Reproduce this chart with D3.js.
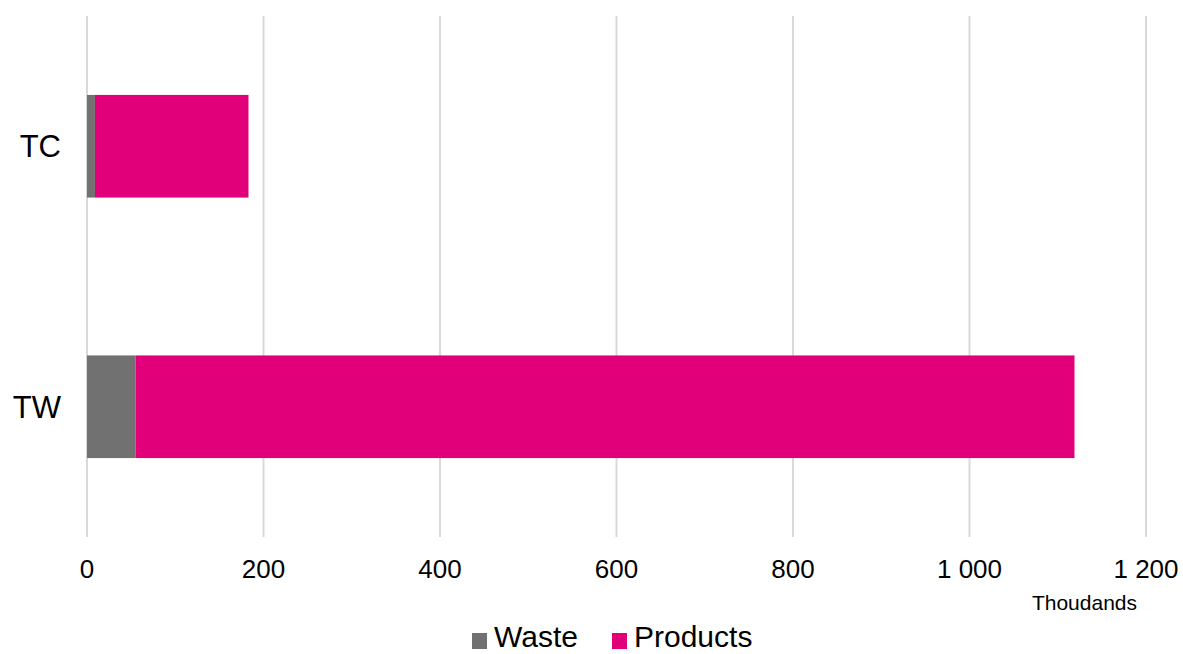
<!DOCTYPE html>
<html lang="en">
<head>
    <meta charset="UTF-8">
    <title>Waste and Products</title>
    <script src="https://d3js.org/d3.v7.min.js"></script>
    <style>
        body {
            margin: 0;
            background: #ffffff;
        }
        svg {
            display: block;
            font-family: "Liberation Sans", Arial, sans-serif;
        }
        .grid line {
            stroke: #d9d9d9;
            stroke-width: 2px;
        }
        .tick-label {
            font-size: 26px;
            fill: #000;
            text-anchor: middle;
        }
        .cat-label {
            font-size: 31px;
            fill: #000;
            text-anchor: end;
        }
        .unit-label {
            font-size: 21px;
            fill: #000;
            text-anchor: end;
        }
        .legend text {
            font-size: 30px;
            fill: #000;
        }
    </style>
</head>
<body>
<svg width="1183" height="654"></svg>

<script>
    // data (thousands)
    const categories = ["TC", "TW"];
    const seriesNames = ["Waste", "Products"];
    const waste = [9, 55];
    const products = [174, 1064];
    const xTicks = [0, 200, 400, 600, 800, 1000, 1200];
    const colors = ["#717171", "#e2007a"];

    const svg = d3.select("svg");

    const x = d3.scaleLinear()
        .domain([0, 1200])
        .range([87, 1146]);

    const y = d3.scaleBand()
        .domain(categories)
        .range([16, 537])
        .paddingInner(0.606)
        .paddingOuter(0.303);

    const fmt = d3.formatLocale({
        decimal: ",",
        thousands: " ",
        grouping: [3],
        currency: ["", ""]
    }).format(",d");

    // vertical gridlines
    svg.append("g")
        .attr("class", "grid")
        .selectAll("line")
        .data(xTicks)
        .enter().append("line")
        .attr("x1", d => x(d))
        .attr("x2", d => x(d))
        .attr("y1", 16)
        .attr("y2", 537);

    // stacked bars
    const table = categories.map((c, i) => ({cat: c, Waste: waste[i], Products: products[i]}));
    const stacked = d3.stack().keys(seriesNames)(table);

    svg.append("g")
        .selectAll("g")
        .data(stacked)
        .enter().append("g")
        .attr("fill", (d, i) => colors[i])
        .selectAll("rect")
        .data(d => d)
        .enter().append("rect")
        .attr("x", d => x(d[0]))
        .attr("y", d => y(d.data.cat))
        .attr("width", d => x(d[1]) - x(d[0]))
        .attr("height", y.bandwidth());

    // x tick labels
    svg.append("g")
        .selectAll("text")
        .data(xTicks)
        .enter().append("text")
        .attr("class", "tick-label")
        .attr("x", d => x(d))
        .attr("y", 578)
        .text(d => fmt(d));

    svg.append("text")
        .attr("class", "unit-label")
        .attr("x", 1137)
        .attr("y", 610)
        .text("Thoudands");

    // category labels
    svg.append("g")
        .selectAll("text")
        .data(categories)
        .enter().append("text")
        .attr("class", "cat-label")
        .attr("x", 61)
        .attr("y", d => y(d) + y.bandwidth() / 2 + 11)
        .text(d => d);

    // legend
    const legendX = [472, 612];
    const legend = svg.append("g").attr("class", "legend");

    legend.selectAll("rect")
        .data(seriesNames)
        .enter().append("rect")
        .attr("x", (d, i) => legendX[i])
        .attr("y", 633)
        .attr("width", 15)
        .attr("height", 16)
        .attr("fill", (d, i) => colors[i]);

    legend.selectAll("text")
        .data(seriesNames)
        .enter().append("text")
        .attr("x", (d, i) => legendX[i] + 22)
        .attr("y", 647)
        .text(d => d);
</script>
</body>
</html>
